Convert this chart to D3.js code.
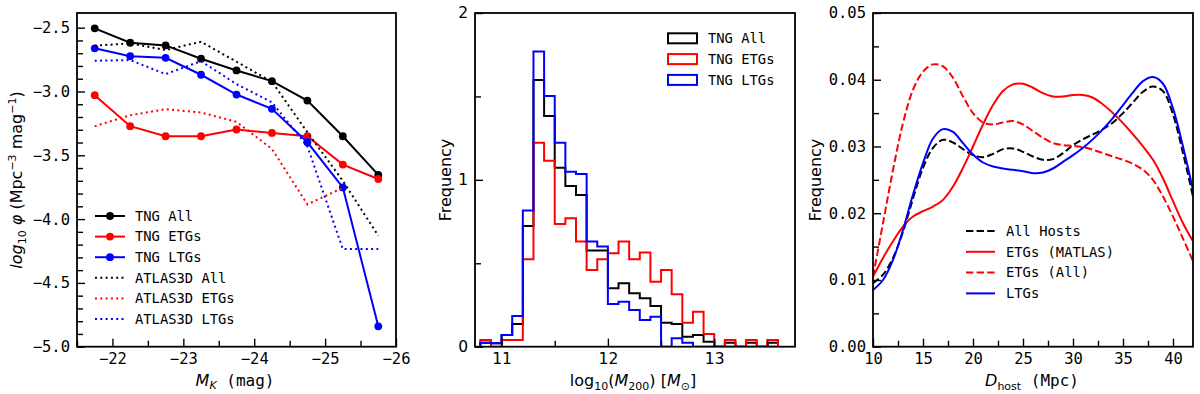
<!DOCTYPE html>
<html>
<head>
<meta charset="utf-8">
<script src="https://cdn.jsdelivr.net/npm/d3@7"></script>
<style>
  body { margin: 0; background: #fff; }
  svg { display: block; }
</style>
</head>
<body>
<div id="chart"></div>
<script>
// ---- data ----
// left: luminosity function, bins of M_K
var mkBins = [-21.75, -22.25, -22.75, -23.25, -23.75, -24.25, -24.75, -25.25, -25.75];
var tngAll = [-2.505, -2.618, -2.639, -2.743, -2.835, -2.919, -3.071, -3.351, -3.654];
var tngETG = [-3.029, -3.272, -3.351, -3.351, -3.298, -3.325, -3.351, -3.573, -3.686];
var tngLTG = [-2.662, -2.723, -2.736, -2.869, -3.024, -3.136, -3.398, -3.752, -4.840];
var atlasAll = [-2.641, -2.623, -2.675, -2.610, -2.767, -2.924, -3.320, -3.700, -4.130];
var atlasETG = [-3.272, -3.186, -3.139, -3.165, -3.238, -3.450, -3.885, -3.755];
var atlasLTG = [-2.759, -2.754, -2.864, -2.762, -2.942, -3.085, -3.430, -4.235, -4.235];

// middle: histogram of log10(M200), bins of 0.1 dex starting at 10.8
var binStart = 10.8, binWidth = 0.1;
var histAll = [0.024, 0.02, 0.07, 0.136, 0.724, 1.599, 1.383, 1.073, 0.963, 0.909, 0.576, 0.576, 0.35, 0.38,
               0.32, 0.29, 0.244, 0.144, 0.136, 0.06, 0.07, 0.03, 0, 0.024, 0, 0.024, 0, 0.024];
var histETG = [0.04, 0, 0.04, 0.04, 0.524, 1.223, 1.115, 0.736, 0.77, 0.63, 0.46, 0.524, 0.56, 0.63,
               0.524, 0.564, 0.39, 0.46, 0.314, 0.144, 0.21, 0.076, 0, 0.04, 0, 0.04, 0, 0.04];
var histLTG = [0.024, 0.02, 0.07, 0.184, 0.816, 1.769, 1.503, 1.223, 1.049, 1.035, 0.63, 0.6, 0.256, 0.27,
               0.22, 0.16, 0.18, 0, 0.05, 0.024, 0, 0, 0, 0, 0, 0, 0, 0];

// right: KDE of host distance, sampled every 1 Mpc from 10 to 42
var dHost = d3.range(10, 43, 1);
var kdeAll = [0.0095, 0.0108, 0.0133, 0.0172, 0.0222, 0.0268, 0.0298, 0.0310, 0.0306, 0.0296, 0.0287,
              0.0284, 0.0289, 0.0296, 0.0297, 0.0292, 0.0285, 0.0280, 0.0281, 0.0290, 0.0302, 0.0311,
              0.0318, 0.0326, 0.0336, 0.0350, 0.0366, 0.0382, 0.0390, 0.0383, 0.0348, 0.0290, 0.0225];
var kdeMatlas = [0.0105, 0.0133, 0.0158, 0.0180, 0.0195, 0.0203, 0.0210, 0.0220, 0.0240, 0.0268, 0.0300,
                 0.0333, 0.0362, 0.0383, 0.0393, 0.0394, 0.0388, 0.0380, 0.0375, 0.0375, 0.0377, 0.0377,
                 0.0373, 0.0363, 0.0350, 0.0335, 0.0318, 0.0300, 0.0280, 0.0252, 0.0218, 0.0185, 0.0158];
var kdeETGAll = [0.0105, 0.0185, 0.0265, 0.0335, 0.0385, 0.0412, 0.0423, 0.0420, 0.0403, 0.0375, 0.0350,
                 0.0336, 0.0333, 0.0336, 0.0338, 0.0333, 0.0323, 0.0313, 0.0305, 0.0302, 0.0301, 0.0299,
                 0.0295, 0.0290, 0.0285, 0.0280, 0.0274, 0.0265, 0.0250, 0.0225, 0.0195, 0.0162, 0.0128];
var kdeLTG = [0.0085, 0.0100, 0.0130, 0.0175, 0.0228, 0.0275, 0.0312, 0.0326, 0.0322, 0.0305, 0.0288,
              0.0276, 0.0270, 0.0267, 0.0265, 0.0263, 0.0260, 0.0261, 0.0267, 0.0277, 0.0287, 0.0298,
              0.0311, 0.0326, 0.0343, 0.0362, 0.0381, 0.0398, 0.0404, 0.0394, 0.0357, 0.0300, 0.0235];

// ticks
var lfXTicks = [-22, -23, -24, -25, -26];
var lfYTicks = [-2.5, -3.0, -3.5, -4.0, -4.5, -5.0];
var mXTicks = [11, 12, 13];
var mYTicks = [0, 1, 2];
var dXTicks = [10, 15, 20, 25, 30, 35, 40];
var dYTicks = [0, 0.01, 0.02, 0.03, 0.04, 0.05];

var width = 1200, height = 394;
var plotTop = 13, plotBottom = 346.7;
var mono = "'DejaVu Sans Mono', monospace";
var sans = "'DejaVu Sans', sans-serif";

var svg = d3.select("#chart").append("svg")
    .attr("width", width)
    .attr("height", height)
    .style("background", "#fff");

var defs = svg.append("defs");

function axes(g, x, y, o) {
    g.append("g").attr("transform", "translate(0," + plotBottom + ")")
        .call(d3.axisBottom(x).tickValues(o.xMajor).tickFormat(o.xFmt).tickSize(-8).tickSizeOuter(0).tickPadding(6));
    g.append("g").attr("transform", "translate(0," + plotBottom + ")")
        .call(d3.axisBottom(x).tickValues(o.xMinor).tickFormat("").tickSize(-6).tickSizeOuter(0));
    g.append("g").attr("transform", "translate(" + x.range()[0] + ",0)")
        .call(d3.axisLeft(y).tickValues(o.yMajor).tickFormat(o.yFmt).tickSize(-8).tickSizeOuter(0).tickPadding(7));
    g.append("g").attr("transform", "translate(" + x.range()[0] + ",0)")
        .call(d3.axisLeft(y).tickValues(o.yMinor).tickFormat("").tickSize(-6).tickSizeOuter(0));
    g.selectAll(".domain").remove();
    g.selectAll(".tick line").attr("stroke", "#000").attr("stroke-width", 1.4);
    g.selectAll(".tick text").attr("fill", "#000").style("font-family", o.font).style("font-size", "15.5px");
    g.append("rect")
        .attr("x", x.range()[0]).attr("y", plotTop)
        .attr("width", x.range()[1] - x.range()[0]).attr("height", plotBottom - plotTop)
        .attr("fill", "none").attr("stroke", "#000").attr("stroke-width", 1.8);
}

function clip(id, x) {
    defs.append("clipPath").attr("id", id).append("rect")
        .attr("x", x.range()[0]).attr("y", plotTop)
        .attr("width", x.range()[1] - x.range()[0]).attr("height", plotBottom - plotTop);
    return "url(#" + id + ")";
}

// ================= left panel =================
var xL = d3.scaleLinear().domain([-21.5, -26]).range([77, 396]);
var yL = d3.scaleLinear().domain([-5.0, -2.385]).range([plotBottom, plotTop]);
var gL = svg.append("g");
var clipL = clip("clipL", xL);

var lineL = d3.line().x(function (d) { return xL(d[0]); }).y(function (d) { return yL(d[1]); });

var tng = [
    {name: "TNG All", vals: tngAll, color: "#000"},
    {name: "TNG ETGs", vals: tngETG, color: "#ff0000"},
    {name: "TNG LTGs", vals: tngLTG, color: "#0000ff"}
];
var atlas = [
    {name: "ATLAS3D All", vals: atlasAll, color: "#000"},
    {name: "ATLAS3D ETGs", vals: atlasETG, color: "#ff0000"},
    {name: "ATLAS3D LTGs", vals: atlasLTG, color: "#0000ff"}
];

var plotL = gL.append("g").attr("clip-path", clipL);
tng.forEach(function (s) {
    var pts = s.vals.map(function (v, i) { return [mkBins[i], v]; });
    plotL.append("path").attr("d", lineL(pts)).attr("fill", "none")
        .attr("stroke", s.color).attr("stroke-width", 2);
    plotL.selectAll(null).data(pts).enter().append("circle")
        .attr("cx", function (d) { return xL(d[0]); })
        .attr("cy", function (d) { return yL(d[1]); })
        .attr("r", 3.9).attr("fill", s.color);
});
atlas.forEach(function (s) {
    var pts = s.vals.map(function (v, i) { return [mkBins[i], v]; });
    plotL.append("path").attr("d", lineL(pts)).attr("fill", "none")
        .attr("stroke", s.color).attr("stroke-width", 2).attr("stroke-dasharray", "2,3.3");
});

axes(gL, xL, yL, {
    xMajor: lfXTicks, xMinor: [-21.5, -22.5, -23.5, -24.5, -25.5],
    yMajor: lfYTicks,
    yMinor: d3.range(-49, -24, 1).map(function (v) { return v / 10; })
        .filter(function (v) { return Math.abs(v * 2 - Math.round(v * 2)) > 0.01; }),
    xFmt: d3.format("d"), yFmt: d3.format(".1f"), font: mono
});

// legend
var legL = gL.append("g");
tng.concat(atlas).forEach(function (s, i) {
    var yy = 216 + i * 20.6;
    var dotted = i >= 3;
    legL.append("line").attr("x1", 95).attr("x2", 125).attr("y1", yy).attr("y2", yy)
        .attr("stroke", s.color).attr("stroke-width", 2)
        .attr("stroke-dasharray", dotted ? "2,3.3" : null);
    if (!dotted) legL.append("circle").attr("cx", 110).attr("cy", yy).attr("r", 3.9).attr("fill", s.color);
    legL.append("text").attr("x", 135).attr("y", yy).attr("dy", "0.35em")
        .style("font-family", mono).style("font-size", "13.8px").text(s.name);
});

// axis labels
var xlabL = gL.append("text").attr("x", 235).attr("y", 386).attr("text-anchor", "middle")
    .style("font-family", sans).style("font-size", "16px");
xlabL.append("tspan").style("font-style", "italic").text("M");
xlabL.append("tspan").style("font-style", "italic").style("font-size", "11px").attr("dy", 3).text("K");
xlabL.append("tspan").attr("dy", -3).style("font-family", mono).text(" (mag)");

var ylabL = gL.append("text").attr("transform", "translate(22,180) rotate(-90)").attr("text-anchor", "middle")
    .style("font-family", sans).style("font-size", "16px");
ylabL.append("tspan").style("font-style", "italic").text("log");
ylabL.append("tspan").style("font-size", "11px").attr("dy", 4).text("10");
ylabL.append("tspan").attr("dy", -4).style("font-style", "italic").text(" \u03c6 ");
ylabL.append("tspan").text("(Mpc");
ylabL.append("tspan").style("font-size", "11px").attr("dy", -6).text("\u22123");
ylabL.append("tspan").attr("dy", 6).text(" mag");
ylabL.append("tspan").style("font-size", "11px").attr("dy", -6).text("\u22121");
ylabL.append("tspan").attr("dy", 6).text(")");

// ================= middle panel =================
var xM = d3.scaleLinear().domain([10.75, 13.76]).range([475, 795]);
var yM = d3.scaleLinear().domain([0, 2]).range([plotBottom, plotTop]);
var gM = svg.append("g");
var clipM = clip("clipM", xM);

var stepLine = d3.line().x(function (d) { return xM(d[0]); }).y(function (d) { return yM(d[1]); }).curve(d3.curveStepAfter);
function stepPts(h) {
    var pts = [[binStart, 0]];
    h.forEach(function (v, i) { pts.push([binStart + i * binWidth, v]); });
    pts.push([binStart + h.length * binWidth, 0]);
    return pts;
}
var hists = [
    {name: "TNG All", vals: histAll, color: "#000"},
    {name: "TNG ETGs", vals: histETG, color: "#ff0000"},
    {name: "TNG LTGs", vals: histLTG, color: "#0000ff"}
];
var plotM = gM.append("g").attr("clip-path", clipM);
hists.forEach(function (s) {
    plotM.append("path").attr("d", stepLine(stepPts(s.vals))).attr("fill", "none")
        .attr("stroke", s.color).attr("stroke-width", 2).attr("stroke-linejoin", "miter");
});

axes(gM, xM, yM, {
    xMajor: mXTicks, xMinor: [11.5, 12.5, 13.5],
    yMajor: mYTicks, yMinor: [0.5, 1.5],
    xFmt: d3.format("d"), yFmt: d3.format("d"), font: sans
});

var legM = gM.append("g");
hists.forEach(function (s, i) {
    var yy = 38.3 + i * 20.8;
    legM.append("rect").attr("x", 668).attr("y", yy - 5).attr("width", 29).attr("height", 10)
        .attr("fill", "none").attr("stroke", s.color).attr("stroke-width", 2);
    legM.append("text").attr("x", 708).attr("y", yy).attr("dy", "0.35em")
        .style("font-family", mono).style("font-size", "13.8px").text(s.name);
});

var xlabM = gM.append("text").attr("x", 633).attr("y", 386).attr("text-anchor", "middle")
    .style("font-family", sans).style("font-size", "16px");
xlabM.append("tspan").text("log");
xlabM.append("tspan").style("font-size", "11px").attr("dy", 4).text("10");
xlabM.append("tspan").attr("dy", -4).text("(");
xlabM.append("tspan").style("font-style", "italic").text("M");
xlabM.append("tspan").style("font-size", "11px").attr("dy", 4).text("200");
xlabM.append("tspan").attr("dy", -4).text(") [");
xlabM.append("tspan").style("font-style", "italic").text("M");
xlabM.append("tspan").style("font-size", "11px").attr("dy", 4).text("\u2299");
xlabM.append("tspan").attr("dy", -4).text("]");

gM.append("text").attr("transform", "translate(451,180) rotate(-90)").attr("text-anchor", "middle")
    .style("font-family", sans).style("font-size", "16px").text("Frequency");

// ================= right panel =================
var xR = d3.scaleLinear().domain([10, 42]).range([873, 1193]);
var yR = d3.scaleLinear().domain([0, 0.05]).range([plotBottom, plotTop]);
var gR = svg.append("g");
var clipR = clip("clipR", xR);

var kdeLine = d3.line().x(function (d) { return xR(d[0]); }).y(function (d) { return yR(d[1]); }).curve(d3.curveCatmullRom);
var kdes = [
    {name: "All Hosts", vals: kdeAll, color: "#000", dash: "7.4,3.2"},
    {name: "ETGs (MATLAS)", vals: kdeMatlas, color: "#ff0000", dash: null},
    {name: "ETGs (All)", vals: kdeETGAll, color: "#ff0000", dash: "7.4,3.2"},
    {name: "LTGs", vals: kdeLTG, color: "#0000ff", dash: null}
];
var plotR = gR.append("g").attr("clip-path", clipR);
kdes.forEach(function (s) {
    var pts = s.vals.map(function (v, i) { return [dHost[i], v]; });
    plotR.append("path").attr("d", kdeLine(pts)).attr("fill", "none")
        .attr("stroke", s.color).attr("stroke-width", 2).attr("stroke-dasharray", s.dash);
});

axes(gR, xR, yR, {
    xMajor: dXTicks, xMinor: [12.5, 17.5, 22.5, 27.5, 32.5, 37.5],
    yMajor: dYTicks, yMinor: [0.005, 0.015, 0.025, 0.035, 0.045],
    xFmt: d3.format("d"), yFmt: d3.format(".2f"), font: mono
});

var legR = gR.append("g");
kdes.forEach(function (s, i) {
    var yy = 231 + i * 20.8;
    legR.append("line").attr("x1", 966).attr("x2", 995).attr("y1", yy).attr("y2", yy)
        .attr("stroke", s.color).attr("stroke-width", 2).attr("stroke-dasharray", s.dash);
    legR.append("text").attr("x", 1006).attr("y", yy).attr("dy", "0.35em")
        .style("font-family", mono).style("font-size", "13.8px").text(s.name);
});

var xlabR = gR.append("text").attr("x", 1032).attr("y", 386).attr("text-anchor", "middle")
    .style("font-family", sans).style("font-size", "16px");
xlabR.append("tspan").style("font-style", "italic").text("D");
xlabR.append("tspan").style("font-size", "11px").attr("dy", 4).text("host");
xlabR.append("tspan").attr("dy", -4).style("font-family", mono).text(" (Mpc)");

gR.append("text").attr("transform", "translate(821,180) rotate(-90)").attr("text-anchor", "middle")
    .style("font-family", sans).style("font-size", "16px").text("Frequency");
</script>
</body>
</html>
